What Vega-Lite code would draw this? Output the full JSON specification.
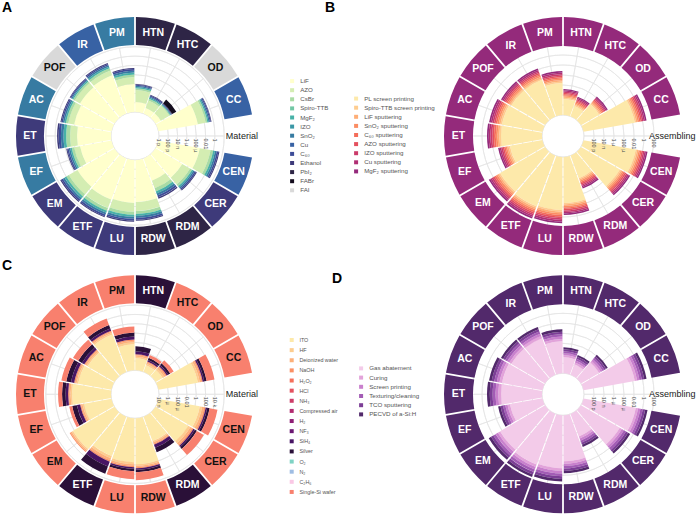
{
"$schema":"https://vega.github.io/schema/vega-lite/v6.json",
"background":"white",
"padding":{"left":2,"top":1,"right":5,"bottom":0},
"config":{"view":{"stroke":null},"font":"Liberation Sans","title":{"font":"Liberation Sans"},"legend":{"labelFont":"Liberation Sans"}},
"datasets":{
"slots":[{"c":"HTN","k":0,"ra":"PbI₂","rc":"Silver"},{"c":"HTC","k":1,"ra":"PbI₂","rc":"Single-Si wafer"},{"c":"OD","k":2,"ra":"FAI","rc":"Single-Si wafer"},{"c":"CC","k":3,"ra":"Cu","rc":"Single-Si wafer"},{"c":"CEN","k":5,"ra":"Cu","rc":"Single-Si wafer"},{"c":"CER","k":6,"ra":"Ethanol","rc":"Single-Si wafer"},{"c":"RDM","k":7,"ra":"PbI₂","rc":"Silver"},{"c":"RDW","k":8,"ra":"PbI₂","rc":"Single-Si wafer"},{"c":"LU","k":9,"ra":"Ethanol","rc":"Single-Si wafer"},{"c":"ETF","k":10,"ra":"Ethanol","rc":"Silver"},{"c":"EM","k":11,"ra":"Ethanol","rc":"Single-Si wafer"},{"c":"EF","k":12,"ra":"SnO₂","rc":"Single-Si wafer"},{"c":"ET","k":13,"ra":"Ethanol","rc":"Single-Si wafer"},{"c":"AC","k":14,"ra":"SnO₂","rc":"Single-Si wafer"},{"c":"POF","k":15,"ra":"FAI","rc":"Single-Si wafer"},{"c":"IR","k":16,"ra":"Cu","rc":"Single-Si wafer"},{"c":"PM","k":17,"ra":"SnO₂","rc":"Single-Si wafer"}],
"spk":[{"k":0},{"k":1},{"k":2},{"k":3},{"k":4},{"k":5},{"k":6},{"k":7},{"k":8},{"k":9},{"k":10},{"k":11},{"k":12},{"k":13},{"k":14},{"k":15},{"k":16},{"k":17}],
"gA":[{"p":0,"t":"1 p"},{"p":2,"t":"100 p"},{"p":4,"t":"10 n"},{"p":6,"t":"1 µ"},{"p":8,"t":"100 µ"},{"p":10,"t":"0.01"},{"p":12,"t":"1"},{"p":14,"t":""}],
"gB":[{"p":0,"t":""},{"p":2,"t":"100 p"},{"p":4,"t":"10 n"},{"p":6,"t":"1 µ"},{"p":8,"t":"100 µ"},{"p":10,"t":"0.01"},{"p":12,"t":"1"},{"p":14,"t":"100"}],
"gC":[{"p":0,"t":"10 n"},{"p":2,"t":"1 µ"},{"p":4,"t":"100 µ"},{"p":6,"t":"0.01"},{"p":8,"t":"1"},{"p":10,"t":"100"},{"p":12,"t":"10 k"},{"p":14,"t":""}],
"lA":[{"t":"Material"}],
"lB":[{"t":"Assembling"}],
"A":[
{"c":"HTN","k":0,"LiF":2.14,"AZO":2.57,"CsBr":0.39,"MgF₂":0.26,"SnO₂":0.26,"C₆₀":0.23,"Ethanol":0.15},
{"c":"HTC","k":1,"LiF":1.29,"AZO":1.71,"CsBr":0.39,"MgF₂":0.26,"SnO₂":0.26,"C₆₀":0.23,"Ethanol":0.15},
{"c":"OD","k":2,"LiF":1.29,"AZO":2.14,"CsBr":0.2,"MgF₂":0.15,"SnO₂":0.12,"C₆₀":0.12,"Ethanol":0.12,"FABr":1.0},
{"c":"CC","k":3,"LiF":8.57,"AZO":1.71,"CsBr":0.39,"MgF₂":0.26,"SnO₂":0.26,"C₆₀":0.23,"Ethanol":0.15},
{"c":"CEN","k":5,"LiF":9.0,"AZO":2.36,"CsBr":0.58,"MgF₂":0.39,"SnO₂":0.39,"C₆₀":0.35,"Ethanol":0.22},
{"c":"CER","k":6,"LiF":6.64,"AZO":1.93,"CsBr":0.51,"MgF₂":0.34,"SnO₂":0.34,"C₆₀":0.31,"Ethanol":0.21},
{"c":"RDM","k":7,"LiF":5.14,"AZO":1.71,"CsBr":0.71,"MgF₂":0.47,"SnO₂":0.47,"C₆₀":0.42,"Ethanol":0.29},
{"c":"RDW","k":8,"LiF":9.0,"AZO":1.93,"CsBr":0.64,"MgF₂":0.43,"SnO₂":0.43,"C₆₀":0.39,"Ethanol":0.25},
{"c":"LU","k":9,"LiF":9.21,"AZO":1.93,"CsBr":0.64,"MgF₂":0.43,"SnO₂":0.43,"C₆₀":0.39,"Ethanol":0.25},
{"c":"ETF","k":10,"LiF":9.43,"AZO":1.93,"CsBr":0.64,"MgF₂":0.43,"SnO₂":0.43,"C₆₀":0.39,"Ethanol":0.25},
{"c":"EM","k":11,"LiF":9.21,"AZO":2.14,"CsBr":0.64,"MgF₂":0.43,"SnO₂":0.43,"C₆₀":0.39,"Ethanol":0.25},
{"c":"EF","k":12,"LiF":6.86,"AZO":1.29,"CsBr":0.51,"MgF₂":0.34,"SnO₂":0.34,"C₆₀":0.31,"Ethanol":0.21},
{"c":"ET","k":13,"LiF":7.29,"AZO":1.5,"CsBr":0.84,"MgF₂":0.56,"SnO₂":0.56,"C₆₀":0.5,"Ethanol":0.33},
{"c":"AC","k":14,"LiF":8.14,"AZO":1.29,"CsBr":0.51,"MgF₂":0.34,"SnO₂":0.34,"C₆₀":0.31,"Ethanol":0.21},
{"c":"POF","k":15,"LiF":8.57,"AZO":1.29,"CsBr":0.39,"MgF₂":0.26,"SnO₂":0.26,"C₆₀":0.23,"Ethanol":0.15},
{"c":"IR","k":16,"LiF":8.79,"AZO":1.07,"CsBr":0.51,"MgF₂":0.34,"SnO₂":0.34,"C₆₀":0.31,"Ethanol":0.21},
{"c":"PM","k":17,"LiF":6.0,"AZO":1.5,"CsBr":0.58,"MgF₂":0.39,"SnO₂":0.39,"C₆₀":0.35,"Ethanol":0.22}],
"B":[
{"c":"HTN","k":0,"PL screen printing":3.2,"Spiro-TTB screen printing":0.25,"LiF sputtering":0.25,"SnO₂ sputtering":0.25,"C₆₀ sputtering":0.25,"AZO sputtering":0.25,"IZO sputtering":0.25,"Cu sputtering":0.25,"MgF₂ sputtering":0.25},
{"c":"HTC","k":1,"PL screen printing":2.2,"Spiro-TTB screen printing":0.25,"LiF sputtering":0.25,"SnO₂ sputtering":0.25,"C₆₀ sputtering":0.25,"AZO sputtering":0.25,"IZO sputtering":0.25,"Cu sputtering":0.25,"MgF₂ sputtering":0.25},
{"c":"OD","k":2,"PL screen printing":4.2,"Spiro-TTB screen printing":0.25,"LiF sputtering":0.25,"SnO₂ sputtering":0.25,"C₆₀ sputtering":0.25,"AZO sputtering":0.25,"IZO sputtering":0.25,"Cu sputtering":0.25,"MgF₂ sputtering":0.25},
{"c":"CC","k":3,"PL screen printing":10.4,"Spiro-TTB screen printing":0.3,"LiF sputtering":0.3,"SnO₂ sputtering":0.3,"C₆₀ sputtering":0.3,"AZO sputtering":0.3,"IZO sputtering":0.3,"Cu sputtering":0.3,"MgF₂ sputtering":0.3},
{"c":"CEN","k":5,"PL screen printing":10.6,"Spiro-TTB screen printing":0.3,"LiF sputtering":0.3,"SnO₂ sputtering":0.3,"C₆₀ sputtering":0.3,"AZO sputtering":0.3,"IZO sputtering":0.3,"Cu sputtering":0.3,"MgF₂ sputtering":0.3},
{"c":"CER","k":6,"PL screen printing":9.0,"Spiro-TTB screen printing":0.3,"LiF sputtering":0.3,"SnO₂ sputtering":0.3,"C₆₀ sputtering":0.3,"AZO sputtering":0.3,"IZO sputtering":0.3,"Cu sputtering":0.3,"MgF₂ sputtering":0.3},
{"c":"RDM","k":7,"PL screen printing":4.8,"Spiro-TTB screen printing":0.28,"LiF sputtering":0.28,"SnO₂ sputtering":0.28,"C₆₀ sputtering":0.28,"AZO sputtering":0.28,"IZO sputtering":0.28,"Cu sputtering":0.28,"MgF₂ sputtering":0.28},
{"c":"RDW","k":8,"PL screen printing":9.2,"Spiro-TTB screen printing":0.3,"LiF sputtering":0.3,"SnO₂ sputtering":0.3,"C₆₀ sputtering":0.3,"AZO sputtering":0.3,"IZO sputtering":0.3,"Cu sputtering":0.3,"MgF₂ sputtering":0.3},
{"c":"LU","k":9,"PL screen printing":10.6,"Spiro-TTB screen printing":0.33,"LiF sputtering":0.33,"SnO₂ sputtering":0.33,"C₆₀ sputtering":0.33,"AZO sputtering":0.33,"IZO sputtering":0.33,"Cu sputtering":0.33,"MgF₂ sputtering":0.33},
{"c":"ETF","k":10,"PL screen printing":10.8,"Spiro-TTB screen printing":0.33,"LiF sputtering":0.33,"SnO₂ sputtering":0.33,"C₆₀ sputtering":0.33,"AZO sputtering":0.33,"IZO sputtering":0.33,"Cu sputtering":0.33,"MgF₂ sputtering":0.33},
{"c":"EM","k":11,"PL screen printing":10.4,"Spiro-TTB screen printing":0.33,"LiF sputtering":0.33,"SnO₂ sputtering":0.33,"C₆₀ sputtering":0.33,"AZO sputtering":0.33,"IZO sputtering":0.33,"Cu sputtering":0.33,"MgF₂ sputtering":0.33},
{"c":"EF","k":12,"PL screen printing":6.6,"Spiro-TTB screen printing":0.3,"LiF sputtering":0.3,"SnO₂ sputtering":0.3,"C₆₀ sputtering":0.3,"AZO sputtering":0.3,"IZO sputtering":0.3,"Cu sputtering":0.3,"MgF₂ sputtering":0.3},
{"c":"ET","k":13,"PL screen printing":8.2,"Spiro-TTB screen printing":0.35,"LiF sputtering":0.35,"SnO₂ sputtering":0.35,"C₆₀ sputtering":0.35,"AZO sputtering":0.35,"IZO sputtering":0.35,"Cu sputtering":0.35,"MgF₂ sputtering":0.35},
{"c":"AC","k":14,"PL screen printing":8.2,"Spiro-TTB screen printing":0.33,"LiF sputtering":0.33,"SnO₂ sputtering":0.33,"C₆₀ sputtering":0.33,"AZO sputtering":0.33,"IZO sputtering":0.33,"Cu sputtering":0.33,"MgF₂ sputtering":0.33},
{"c":"POF","k":15,"PL screen printing":7.8,"Spiro-TTB screen printing":0.3,"LiF sputtering":0.3,"SnO₂ sputtering":0.3,"C₆₀ sputtering":0.3,"AZO sputtering":0.3,"IZO sputtering":0.3,"Cu sputtering":0.3,"MgF₂ sputtering":0.3},
{"c":"IR","k":16,"PL screen printing":7.8,"Spiro-TTB screen printing":0.3,"LiF sputtering":0.3,"SnO₂ sputtering":0.3,"C₆₀ sputtering":0.3,"AZO sputtering":0.3,"IZO sputtering":0.3,"Cu sputtering":0.3,"MgF₂ sputtering":0.3},
{"c":"PM","k":17,"PL screen printing":6.4,"Spiro-TTB screen printing":0.3,"LiF sputtering":0.3,"SnO₂ sputtering":0.3,"C₆₀ sputtering":0.3,"AZO sputtering":0.3,"IZO sputtering":0.3,"Cu sputtering":0.3,"MgF₂ sputtering":0.3}],
"C":[
{"c":"HTN","k":0,"ITO":2.57,"HF":0.34,"Deionized water":0.3,"NaOH":0.22,"SiH₄":0.68,"Silver":1.03},
{"c":"HTC","k":1,"ITO":1.5,"HF":0.34,"Deionized water":0.3,"NaOH":0.22,"SiH₄":0.34,"Silver":0.52,"Single-Si wafer":0.64},
{"c":"OD","k":2,"ITO":1.71,"HF":0.43,"Deionized water":0.37,"NaOH":0.27,"SiH₄":0.34,"Silver":0.52,"Single-Si wafer":0.86},
{"c":"CC","k":3,"ITO":8.57,"HF":0.43,"Deionized water":0.37,"NaOH":0.27,"SiH₄":0.34,"Silver":0.52,"Single-Si wafer":1.71},
{"c":"CEN","k":5,"ITO":9.0,"HF":0.52,"Deionized water":0.45,"NaOH":0.32,"SiH₄":0.34,"Silver":0.52,"Single-Si wafer":1.71},
{"c":"CER","k":6,"ITO":8.14,"HF":0.52,"Deionized water":0.45,"NaOH":0.32,"SiH₄":0.34,"Silver":0.52,"Single-Si wafer":1.71},
{"c":"RDM","k":7,"ITO":5.57,"HF":0.34,"Deionized water":0.3,"NaOH":0.22,"SiH₄":0.68,"Silver":1.03},
{"c":"RDW","k":8,"ITO":9.86,"HF":0.34,"Deionized water":0.3,"NaOH":0.22,"SiH₄":0.34,"Silver":0.52,"Single-Si wafer":1.71},
{"c":"LU","k":9,"ITO":9.43,"HF":0.43,"Deionized water":0.37,"NaOH":0.27,"SiH₄":0.34,"Silver":0.52,"Single-Si wafer":1.71},
{"c":"ETF","k":10,"ITO":9.0,"HF":0.52,"Deionized water":0.45,"NaOH":0.32,"SiH₄":1.1,"Silver":1.69},
{"c":"EM","k":11,"ITO":10.29,"HF":0.34,"Deionized water":0.3,"NaOH":0.22},
{"c":"EF","k":12,"ITO":6.0,"HF":0.34,"Deionized water":0.3,"NaOH":0.22,"SiH₄":0.68,"Silver":1.03,"Single-Si wafer":0.64},
{"c":"ET","k":13,"ITO":8.36,"HF":0.34,"Deionized water":0.3,"NaOH":0.22,"SiH₄":0.52,"Silver":0.77,"Single-Si wafer":0.86},
{"c":"AC","k":14,"ITO":7.29,"HF":0.34,"Deionized water":0.3,"NaOH":0.22,"SiH₄":0.68,"Silver":1.03,"Single-Si wafer":1.07},
{"c":"POF","k":15,"ITO":6.64,"HF":0.34,"Deionized water":0.3,"NaOH":0.22,"SiH₄":0.6,"Silver":0.9,"Single-Si wafer":1.29},
{"c":"IR","k":16,"ITO":8.57,"HF":0.34,"Deionized water":0.3,"NaOH":0.22,"SiH₄":0.52,"Silver":0.77,"Single-Si wafer":1.5},
{"c":"PM","k":17,"ITO":5.57,"HF":0.43,"Deionized water":0.37,"NaOH":0.27,"SiH₄":0.6,"Silver":0.9,"Single-Si wafer":1.29}],
"D":[
{"c":"HTN","k":0,"Gas abatement":3.2,"Curing":0.4,"Screen printing":0.4,"Texturing/cleaning":0.4,"TCO sputtering":0.4,"PECVD of a-Si:H":0.4},
{"c":"HTC","k":1,"Gas abatement":2.2,"Curing":0.4,"Screen printing":0.4,"Texturing/cleaning":0.4,"TCO sputtering":0.4,"PECVD of a-Si:H":0.4},
{"c":"OD","k":2,"Gas abatement":4.2,"Curing":0.4,"Screen printing":0.4,"Texturing/cleaning":0.4,"TCO sputtering":0.4,"PECVD of a-Si:H":0.4},
{"c":"CC","k":3,"Gas abatement":10.4,"Curing":0.48,"Screen printing":0.48,"Texturing/cleaning":0.48,"TCO sputtering":0.48,"PECVD of a-Si:H":0.48},
{"c":"CEN","k":5,"Gas abatement":10.6,"Curing":0.48,"Screen printing":0.48,"Texturing/cleaning":0.48,"TCO sputtering":0.48,"PECVD of a-Si:H":0.48},
{"c":"CER","k":6,"Gas abatement":9.0,"Curing":0.48,"Screen printing":0.48,"Texturing/cleaning":0.48,"TCO sputtering":0.48,"PECVD of a-Si:H":0.48},
{"c":"RDM","k":7,"Gas abatement":4.8,"Curing":0.45,"Screen printing":0.45,"Texturing/cleaning":0.45,"TCO sputtering":0.45,"PECVD of a-Si:H":0.45},
{"c":"RDW","k":8,"Gas abatement":9.2,"Curing":0.48,"Screen printing":0.48,"Texturing/cleaning":0.48,"TCO sputtering":0.48,"PECVD of a-Si:H":0.48},
{"c":"LU","k":9,"Gas abatement":10.6,"Curing":0.53,"Screen printing":0.53,"Texturing/cleaning":0.53,"TCO sputtering":0.53,"PECVD of a-Si:H":0.53},
{"c":"ETF","k":10,"Gas abatement":10.8,"Curing":0.53,"Screen printing":0.53,"Texturing/cleaning":0.53,"TCO sputtering":0.53,"PECVD of a-Si:H":0.53},
{"c":"EM","k":11,"Gas abatement":10.4,"Curing":0.53,"Screen printing":0.53,"Texturing/cleaning":0.53,"TCO sputtering":0.53,"PECVD of a-Si:H":0.53},
{"c":"EF","k":12,"Gas abatement":6.6,"Curing":0.48,"Screen printing":0.48,"Texturing/cleaning":0.48,"TCO sputtering":0.48,"PECVD of a-Si:H":0.48},
{"c":"ET","k":13,"Gas abatement":8.2,"Curing":0.56,"Screen printing":0.56,"Texturing/cleaning":0.56,"TCO sputtering":0.56,"PECVD of a-Si:H":0.56},
{"c":"AC","k":14,"Gas abatement":8.2,"Curing":0.53,"Screen printing":0.53,"Texturing/cleaning":0.53,"TCO sputtering":0.53,"PECVD of a-Si:H":0.53},
{"c":"POF","k":15,"Gas abatement":7.8,"Curing":0.48,"Screen printing":0.48,"Texturing/cleaning":0.48,"TCO sputtering":0.48,"PECVD of a-Si:H":0.48},
{"c":"IR","k":16,"Gas abatement":7.8,"Curing":0.48,"Screen printing":0.48,"Texturing/cleaning":0.48,"TCO sputtering":0.48,"PECVD of a-Si:H":0.48},
{"c":"PM","k":17,"Gas abatement":6.4,"Curing":0.48,"Screen printing":0.48,"Texturing/cleaning":0.48,"TCO sputtering":0.48,"PECVD of a-Si:H":0.48}]
},
"columns":2,
"spacing":{"row":18.3,"column":188},
"bounds":"flush",
"resolve":{"scale":{"color":"independent","theta":"independent","radius":"independent"},"legend":{"color":"independent"}},
"concat":[
{"width":240,"height":240,
"title":{"text":"A","anchor":"start","dx":-13,"offset":1,"fontSize":14,"fontWeight":"bold","color":"black"},
"layer":[
{"data":{"name":"gA"},"mark":{"type":"arc","filled":false,"stroke":"#e4e4e4","strokeWidth":0.7},"encoding":{"theta":{"datum":-0.5,"type":"quantitative","scale":{"type":"linear","domain":[-0.5,17.5],"range":[0,6.283185],"zero":false,"nice":false}},"theta2":{"datum":17.5},"radius":{"field":"p","type":"quantitative","scale":{"type":"linear","domain":[0,20.4],"range":[24,119],"zero":false,"nice":false}},"radius2":{"field":"p"}}},
{"data":{"name":"spk"},"mark":{"type":"arc","filled":false,"stroke":"#e4e4e4","strokeWidth":0.7},"encoding":{"theta":{"field":"k","type":"quantitative","stack":null},"theta2":{"field":"k"},"radius":{"datum":0,"type":"quantitative"},"radius2":{"datum":14}}},
{"data":{"name":"A"},"transform":[{"fold":["LiF","AZO","CsBr","MgF₂","SnO₂","C₆₀","Ethanol","FABr"],"as":["m","d"]},{"filter":{"field":"d","valid":true}},{"stack":"d","groupby":["c"],"as":["r0","r1"]},{"bin":{"step":1,"anchor":-0.5,"extent":[-0.5,17.5],"nice":false},"field":"k","as":["k0","k1"]}],
 "mark":{"type":"arc","padAngle":0.014},
 "encoding":{"theta":{"field":"k0","type":"quantitative","stack":null},"theta2":{"field":"k1"},"radius":{"field":"r1","type":"quantitative"},"radius2":{"field":"r0"},
 "color":{"field":"m","type":"nominal","scale":{"domain":["LiF","AZO","CsBr","Spiro-TTB","MgF₂","IZO","SnO₂","Cu","C₆₀","Ethanol","PbI₂","FABr","FAI"],"range":["#ffffcc","#d4edb2","#a9dba4","#72c7a5","#47b1a7","#3a97a6","#377ba2","#3862a4","#3d4c98","#3e3a7a","#2e2546","#140d1e","#d9d9d9"]},
 "legend":{"title":null,"orient":"none","legendX":274,"legendY":62,"symbolType":"square","symbolSize":16,"symbolStrokeWidth":0,"labelFontSize":6.2,"labelColor":"#555555","rowPadding":2.1,"labelOffset":5}}}},
{"data":{"name":"slots"},"transform":[{"bin":{"step":1,"anchor":-0.5,"extent":[-0.5,17.5],"nice":false},"field":"k","as":["k0","k1"]}],"mark":{"type":"arc","padAngle":0.012},
 "encoding":{"theta":{"field":"k0","type":"quantitative","stack":null},"theta2":{"field":"k1"},"radius":{"datum":20.4,"type":"quantitative"},"radius2":{"datum":14.4},"color":{"field":"ra","type":"nominal"}}},
{"data":{"name":"slots"},"mark":{"type":"text","fontWeight":"bold","fontSize":10.5,"align":"center","baseline":"middle"},"encoding":{"theta":{"field":"k","type":"quantitative","stack":null},"radius":{"datum":17.4,"type":"quantitative"},"text":{"field":"c"},"color":{"condition":{"test":"datum.ra === 'FAI'","value":"#111111"},"value":"white"}}},
{"data":{"name":"gA"},"mark":{"type":"text","angle":90,"align":"left","baseline":"middle","dx":2.5,"fontSize":5.5,"color":"#4d4d4d"},"encoding":{"theta":{"datum":4,"type":"quantitative"},"radius":{"field":"p","type":"quantitative"},"text":{"field":"t"}}},
{"data":{"name":"lA"},"mark":{"type":"text","align":"left","baseline":"middle","fontSize":9,"color":"#1a1a1a"},"encoding":{"theta":{"datum":4,"type":"quantitative"},"radius":{"datum":14.36,"type":"quantitative"},"text":{"field":"t"}}}
]},
{"width":240,"height":240,
"title":{"text":"B","anchor":"start","dx":-28,"offset":1,"fontSize":14,"fontWeight":"bold","color":"black"},
"layer":[
{"data":{"name":"gB"},"mark":{"type":"arc","filled":false,"stroke":"#e4e4e4","strokeWidth":0.7},"encoding":{"theta":{"datum":-0.5,"type":"quantitative","scale":{"type":"linear","domain":[-0.5,17.5],"range":[0,6.283185],"zero":false,"nice":false}},"theta2":{"datum":17.5},"radius":{"field":"p","type":"quantitative","scale":{"type":"linear","domain":[0,19.6],"range":[21,119],"zero":false,"nice":false}},"radius2":{"field":"p"}}},
{"data":{"name":"spk"},"mark":{"type":"arc","filled":false,"stroke":"#e4e4e4","strokeWidth":0.7},"encoding":{"theta":{"field":"k","type":"quantitative","stack":null},"theta2":{"field":"k"},"radius":{"datum":0,"type":"quantitative"},"radius2":{"datum":14}}},
{"data":{"name":"B"},"transform":[{"fold":["PL screen printing","Spiro-TTB screen printing","LiF sputtering","SnO₂ sputtering","C₆₀ sputtering","AZO sputtering","IZO sputtering","Cu sputtering","MgF₂ sputtering"],"as":["m","d"]},{"filter":{"field":"d","valid":true}},{"stack":"d","groupby":["c"],"as":["r0","r1"]},{"bin":{"step":1,"anchor":-0.5,"extent":[-0.5,17.5],"nice":false},"field":"k","as":["k0","k1"]}],
 "mark":{"type":"arc","padAngle":0.014},
 "encoding":{"theta":{"field":"k0","type":"quantitative","stack":null},"theta2":{"field":"k1"},"radius":{"field":"r1","type":"quantitative"},"radius2":{"field":"r0"},
 "color":{"field":"m","type":"nominal","scale":{"domain":["PL screen printing","Spiro-TTB screen printing","LiF sputtering","SnO₂ sputtering","C₆₀ sputtering","AZO sputtering","IZO sputtering","Cu sputtering","MgF₂ sputtering"],"range":["#fde9aa","#fecd90","#feae77","#fb8d63","#f46d5a","#e4505e","#cb3b6a","#b02f74","#942a7b"]},
 "legend":{"title":null,"orient":"none","legendX":-90,"legendY":79.5,"symbolType":"square","symbolSize":16,"symbolStrokeWidth":0,"labelFontSize":6.2,"labelColor":"#555555","rowPadding":2.1,"labelOffset":5}}}},
{"data":{"name":"slots"},"transform":[{"bin":{"step":1,"anchor":-0.5,"extent":[-0.5,17.5],"nice":false},"field":"k","as":["k0","k1"]}],"mark":{"type":"arc","padAngle":0.012},
 "encoding":{"theta":{"field":"k0","type":"quantitative","stack":null},"theta2":{"field":"k1"},"radius":{"datum":19.6,"type":"quantitative"},"radius2":{"datum":13.8},"color":{"datum":"MgF₂ sputtering","type":"nominal"}}},
{"data":{"name":"slots"},"mark":{"type":"text","fontWeight":"bold","fontSize":10.5,"align":"center","baseline":"middle","color":"white"},"encoding":{"theta":{"field":"k","type":"quantitative","stack":null},"radius":{"datum":16.7,"type":"quantitative"},"text":{"field":"c"}}},
{"data":{"name":"gB"},"mark":{"type":"text","angle":90,"align":"left","baseline":"middle","dx":2.5,"fontSize":5.5,"color":"#4d4d4d"},"encoding":{"theta":{"datum":4,"type":"quantitative"},"radius":{"field":"p","type":"quantitative"},"text":{"field":"t"}}},
{"data":{"name":"lB"},"mark":{"type":"text","align":"left","baseline":"middle","fontSize":9,"color":"#1a1a1a"},"encoding":{"theta":{"datum":4,"type":"quantitative"},"radius":{"datum":13.0,"type":"quantitative"},"text":{"field":"t"}}}
]},
{"width":240,"height":240,
"title":{"text":"C","anchor":"start","dx":-13,"offset":1,"fontSize":14,"fontWeight":"bold","color":"black"},
"layer":[
{"data":{"name":"gC"},"mark":{"type":"arc","filled":false,"stroke":"#e4e4e4","strokeWidth":0.7},"encoding":{"theta":{"datum":-0.5,"type":"quantitative","scale":{"type":"linear","domain":[-0.5,17.5],"range":[0,6.283185],"zero":false,"nice":false}},"theta2":{"datum":17.5},"radius":{"field":"p","type":"quantitative","scale":{"type":"linear","domain":[0,20.4],"range":[24,119],"zero":false,"nice":false}},"radius2":{"field":"p"}}},
{"data":{"name":"spk"},"mark":{"type":"arc","filled":false,"stroke":"#e4e4e4","strokeWidth":0.7},"encoding":{"theta":{"field":"k","type":"quantitative","stack":null},"theta2":{"field":"k"},"radius":{"datum":0,"type":"quantitative"},"radius2":{"datum":14}}},
{"data":{"name":"C"},"transform":[{"fold":["ITO","HF","Deionized water","NaOH","SiH₄","Silver","Single-Si wafer"],"as":["m","d"]},{"filter":{"field":"d","valid":true}},{"stack":"d","groupby":["c"],"as":["r0","r1"]},{"bin":{"step":1,"anchor":-0.5,"extent":[-0.5,17.5],"nice":false},"field":"k","as":["k0","k1"]}],
 "mark":{"type":"arc","padAngle":0.014},
 "encoding":{"theta":{"field":"k0","type":"quantitative","stack":null},"theta2":{"field":"k1"},"radius":{"field":"r1","type":"quantitative"},"radius2":{"field":"r0"},
 "color":{"field":"m","type":"nominal","scale":{"domain":["ITO","HF","Deionized water","NaOH","H₂O₂","HCl","NH₃","Compressed air","H₂","NF₃","SiH₄","Silver","O₂","N₂","C₂H₆","Single-Si wafer"],"range":["#fde9aa","#fdcd8f","#fdb079","#fb9064","#f5705b","#e4525f","#cd3d68","#b22b70","#8f1f75","#6c1872","#481564","#2a1038","#7fd3c4","#9fbde3","#fac8e5","#f8806e"]},
 "legend":{"title":null,"orient":"none","legendX":274,"legendY":63,"symbolType":"square","symbolSize":16,"symbolStrokeWidth":0,"labelFontSize":5.4,"labelColor":"#555555","rowPadding":3.13,"labelOffset":5,"symbolLimit":20}}}},
{"data":{"name":"slots"},"transform":[{"bin":{"step":1,"anchor":-0.5,"extent":[-0.5,17.5],"nice":false},"field":"k","as":["k0","k1"]}],"mark":{"type":"arc","padAngle":0.012},
 "encoding":{"theta":{"field":"k0","type":"quantitative","stack":null},"theta2":{"field":"k1"},"radius":{"datum":20.4,"type":"quantitative"},"radius2":{"datum":14.4},"color":{"field":"rc","type":"nominal"}}},
{"data":{"name":"slots"},"mark":{"type":"text","fontWeight":"bold","fontSize":10.5,"align":"center","baseline":"middle"},"encoding":{"theta":{"field":"k","type":"quantitative","stack":null},"radius":{"datum":17.4,"type":"quantitative"},"text":{"field":"c"},"color":{"condition":{"test":"datum.rc === 'Single-Si wafer'","value":"#111111"},"value":"white"}}},
{"data":{"name":"gC"},"mark":{"type":"text","angle":90,"align":"left","baseline":"middle","dx":2.5,"fontSize":5.5,"color":"#4d4d4d"},"encoding":{"theta":{"datum":4,"type":"quantitative"},"radius":{"field":"p","type":"quantitative"},"text":{"field":"t"}}},
{"data":{"name":"lA"},"mark":{"type":"text","align":"left","baseline":"middle","fontSize":9,"color":"#1a1a1a"},"encoding":{"theta":{"datum":4,"type":"quantitative"},"radius":{"datum":14.36,"type":"quantitative"},"text":{"field":"t"}}}
]},
{"width":240,"height":240,
"title":{"text":"D","anchor":"start","dx":-26,"dy":13,"offset":1,"fontSize":14,"fontWeight":"bold","color":"black"},
"layer":[
{"data":{"name":"gB"},"mark":{"type":"arc","filled":false,"stroke":"#e4e4e4","strokeWidth":0.7},"encoding":{"theta":{"datum":-0.5,"type":"quantitative","scale":{"type":"linear","domain":[-0.5,17.5],"range":[0,6.283185],"zero":false,"nice":false}},"theta2":{"datum":17.5},"radius":{"field":"p","type":"quantitative","scale":{"type":"linear","domain":[0,19.6],"range":[21,119],"zero":false,"nice":false}},"radius2":{"field":"p"}}},
{"data":{"name":"spk"},"mark":{"type":"arc","filled":false,"stroke":"#e4e4e4","strokeWidth":0.7},"encoding":{"theta":{"field":"k","type":"quantitative","stack":null},"theta2":{"field":"k"},"radius":{"datum":0,"type":"quantitative"},"radius2":{"datum":14}}},
{"data":{"name":"D"},"transform":[{"fold":["Gas abatement","Curing","Screen printing","Texturing/cleaning","TCO sputtering","PECVD of a-Si:H"],"as":["m","d"]},{"filter":{"field":"d","valid":true}},{"stack":"d","groupby":["c"],"as":["r0","r1"]},{"bin":{"step":1,"anchor":-0.5,"extent":[-0.5,17.5],"nice":false},"field":"k","as":["k0","k1"]}],
 "mark":{"type":"arc","padAngle":0.014},
 "encoding":{"theta":{"field":"k0","type":"quantitative","stack":null},"theta2":{"field":"k1"},"radius":{"field":"r1","type":"quantitative"},"radius2":{"field":"r0"},
 "color":{"field":"m","type":"nominal","scale":{"domain":["Gas abatement","Curing","Screen printing","Texturing/cleaning","TCO sputtering","PECVD of a-Si:H"],"range":["#f3cbe9","#e2a3da","#c980cd","#a35cb5","#7c3e96","#52296b"]},
 "legend":{"title":null,"orient":"none","legendX":-85,"legendY":91,"symbolType":"square","symbolSize":16,"symbolStrokeWidth":0,"labelFontSize":6.2,"labelColor":"#555555","rowPadding":2.2,"labelOffset":5}}}},
{"data":{"name":"slots"},"transform":[{"bin":{"step":1,"anchor":-0.5,"extent":[-0.5,17.5],"nice":false},"field":"k","as":["k0","k1"]}],"mark":{"type":"arc","padAngle":0.012},
 "encoding":{"theta":{"field":"k0","type":"quantitative","stack":null},"theta2":{"field":"k1"},"radius":{"datum":19.6,"type":"quantitative"},"radius2":{"datum":13.8},"color":{"datum":"PECVD of a-Si:H","type":"nominal"}}},
{"data":{"name":"slots"},"mark":{"type":"text","fontWeight":"bold","fontSize":10.5,"align":"center","baseline":"middle","color":"white"},"encoding":{"theta":{"field":"k","type":"quantitative","stack":null},"radius":{"datum":16.7,"type":"quantitative"},"text":{"field":"c"}}},
{"data":{"name":"gB"},"mark":{"type":"text","angle":90,"align":"left","baseline":"middle","dx":2.5,"fontSize":5.5,"color":"#4d4d4d"},"encoding":{"theta":{"datum":4,"type":"quantitative"},"radius":{"field":"p","type":"quantitative"},"text":{"field":"t"}}},
{"data":{"name":"lB"},"mark":{"type":"text","align":"left","baseline":"middle","fontSize":9,"color":"#1a1a1a"},"encoding":{"theta":{"datum":4,"type":"quantitative"},"radius":{"datum":13.0,"type":"quantitative"},"text":{"field":"t"}}}
]}
]
}
